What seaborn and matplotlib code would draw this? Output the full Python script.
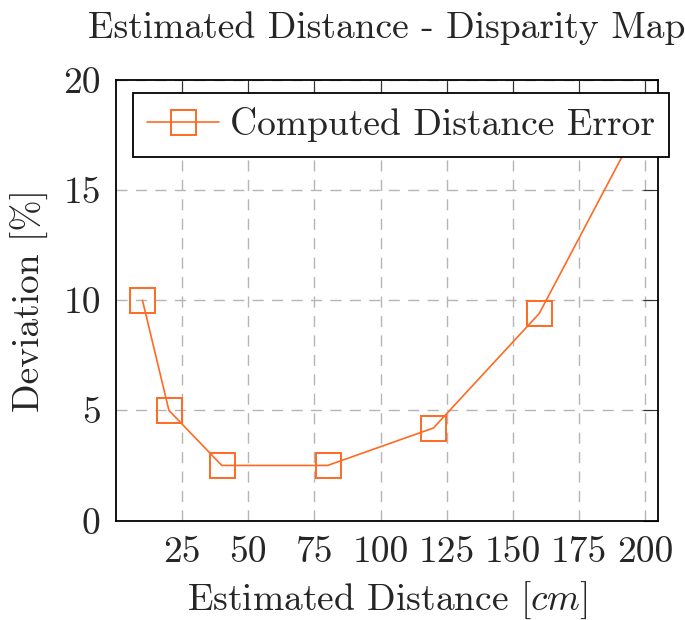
import matplotlib
matplotlib.use("Agg")
import matplotlib.pyplot as plt
import seaborn as sns
import pandas as pd

# Data
distance_cm = [10, 20, 40, 80, 120, 160, 200]
deviation_pct = [10.0, 5.0, 2.5, 2.5, 4.2, 9.4, 18.5]
x_ticks = [25, 50, 75, 100, 125, 150, 175, 200]
y_ticks = [0, 5, 10, 15, 20]
series_label = "Computed Distance Error"

sns.set_style("white")
plt.rcParams["font.family"] = ["cmr10", "DejaVu Serif"]
plt.rcParams["mathtext.fontset"] = "cm"
plt.rcParams["axes.formatter.use_mathtext"] = True
plt.rcParams["axes.unicode_minus"] = False

FS = 27
ORANGE = "#ff6a22"

fig = plt.figure(figsize=(6.85, 6.2), dpi=100)
ax = fig.add_axes([116 / 685, 1 - 520.5 / 620, (658.3 - 116) / 685, (520.5 - 80) / 620])

df = pd.DataFrame({"x": distance_cm, "y": deviation_pct})
sns.lineplot(data=df, x="x", y="y", ax=ax, color=ORANGE, linewidth=1.2,
             marker="s", markersize=18, markerfacecolor="none",
             markeredgecolor=ORANGE, markeredgewidth=1.4,
             label=series_label, zorder=3)

ax.set_xlim(0, 205)
ax.set_ylim(0, 20)
ax.set_xticks(x_ticks)
ax.set_yticks(y_ticks)
ax.set_xticklabels([str(t) for t in x_ticks])
ax.set_yticklabels([str(t) for t in y_ticks])

ax.grid(True, which="major", linestyle=(0, (8, 6)), color="#b5b5b5", linewidth=1.0)
ax.set_axisbelow(True)

for s in ax.spines.values():
    s.set_visible(True)
    s.set_color("black")
    s.set_linewidth(1.3)

ax.tick_params(axis="both", which="major", direction="in", length=11, width=0.8,
               color="#333333", top=True, right=True, labelsize=FS, pad=11)

ax.set_xlabel(r"Estimated Distance [$cm$]", fontsize=FS, labelpad=8)
ax.set_ylabel(r"Deviation [%]", fontsize=FS, labelpad=10)
ax.set_title("Estimated Distance - Disparity Map", fontsize=FS, pad=30)

leg = ax.legend(loc="upper right", bbox_to_anchor=(669 / 685, 1 - 93 / 620),
                bbox_transform=fig.transFigure, borderaxespad=0, fontsize=FS,
                frameon=True, fancybox=False, framealpha=1, edgecolor="black",
                handlelength=1.9, handletextpad=0.3, borderpad=0.38)
leg.get_frame().set_linewidth(1.3)
leg.set_zorder(5)

fig.savefig("out.png", dpi=100)
